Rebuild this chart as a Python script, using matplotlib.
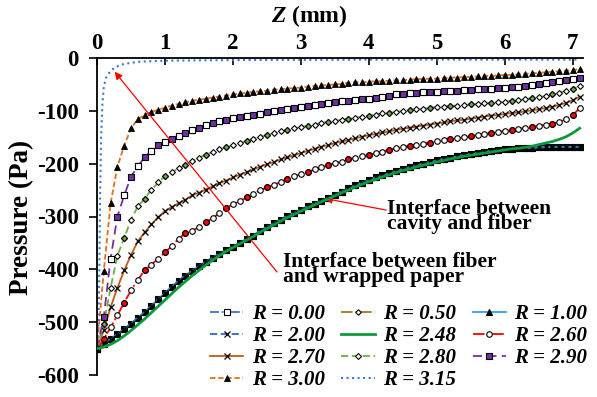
import matplotlib
matplotlib.use('Agg')
import matplotlib.pyplot as plt

plt.rcParams['font.family'] = ['Liberation Serif', 'DejaVu Serif']
plt.rcParams['font.weight'] = 'bold'
plt.rcParams['axes.unicode_minus'] = False
plt.rcParams['mathtext.fontset'] = 'custom'
plt.rcParams['mathtext.it'] = 'Liberation Serif:italic:bold'
plt.rcParams['mathtext.rm'] = 'Liberation Serif:bold'

# Z positions (mm) of the sampled points
z = [0.0, 0.1, 0.2, 0.3, 0.4, 0.5, 0.6, 0.7, 0.8, 0.9,
     1.0, 1.1, 1.2, 1.3, 1.4, 1.5, 1.6, 1.7, 1.8, 1.9,
     2.0, 2.1, 2.2, 2.3, 2.4, 2.5, 2.6, 2.7, 2.8, 2.9,
     3.0, 3.1, 3.2, 3.3, 3.4, 3.5, 3.6, 3.7, 3.8, 3.9,
     4.0, 4.1, 4.2, 4.3, 4.4, 4.5, 4.6, 4.7, 4.8, 4.9,
     5.0, 5.1, 5.2, 5.3, 5.4, 5.5, 5.6, 5.7, 5.8, 5.9,
     6.0, 6.1, 6.2, 6.3, 6.4, 6.5, 6.6, 6.7, 6.8, 6.9,
     7.0, 7.1]

# R = 0.00 ... 2.00 all fall on the same curve
p_core = [-550, -541, -532, -523, -513, -503, -492, -481, -469, -457,
          -445, -433, -422, -412, -403, -394, -386, -378, -371, -364,
          -357, -350, -343, -336, -327, -320, -313, -306, -299, -293,
          -287, -281, -276, -270, -265, -259, -253, -247, -241, -236,
          -231, -226, -222, -218, -214, -210, -207, -203, -200, -197,
          -194, -191, -189, -186, -184, -182, -180, -178, -176, -175,
          -173, -172, -171, -170, -170, -169, -169, -168, -168, -168,
          -168, -168]

p248 = [-550, -547, -542, -535, -526, -516, -505, -494, -482, -470,
        -458, -446, -434, -423, -412, -402, -392, -383, -374, -366,
        -359, -352, -345, -338, -330, -323, -316, -309, -302, -296,
        -290, -284, -278, -272, -267, -261, -255, -250, -244, -239,
        -234, -230, -225, -221, -217, -213, -210, -206, -203, -200,
        -197, -194, -191, -189, -186, -184, -182, -180, -178, -176,
        -174, -172, -171, -169, -167, -164, -161, -158, -154, -149,
        -142, -133]

p260 = [-550, -532, -510, -487, -463, -440, -420, -402, -391, -380,
        -368, -356, -342, -332, -327, -320, -311, -303, -294, -284,
        -277, -271, -264, -257, -250, -245, -240, -235, -229, -224,
        -220, -216, -211, -207, -203, -199, -196, -192, -189, -186,
        -183, -180, -177, -174, -171, -169, -166, -164, -162, -160,
        -158, -156, -154, -152, -150, -148, -146, -144, -142, -140,
        -138, -136, -134, -132, -130, -128, -126, -124, -121, -116,
        -108, -95]

p270 = [-550, -515, -472, -435, -402, -373, -347, -330, -315, -301,
        -290, -282, -275, -268, -260, -255, -249, -243, -237, -232,
        -226, -221, -216, -211, -206, -201, -197, -192, -188, -184,
        -180, -176, -172, -168, -165, -161, -158, -155, -152, -149,
        -146, -144, -141, -139, -136, -134, -132, -130, -128, -126,
        -124, -122, -120, -118, -117, -115, -113, -111, -109, -108,
        -106, -104, -103, -101, -99, -97, -95, -92, -89, -85,
        -80, -73]

p280 = [-550, -503, -435, -374, -341, -306, -281, -266, -250, -235,
        -224, -216, -209, -202, -195, -189, -183, -178, -173, -169,
        -165, -161, -157, -153, -149, -146, -142, -139, -136, -133,
        -131, -128, -126, -123, -121, -119, -117, -115, -113, -111,
        -109, -107, -105, -104, -102, -100, -99, -97, -96, -94,
        -93, -92, -91, -90, -89, -88, -87, -86, -85, -84,
        -83, -81, -80, -78, -76, -74, -72, -69, -66, -62,
        -58, -53]

p290 = [-550, -490, -380, -300, -260, -225, -205, -188, -176, -165,
        -159, -154, -148, -142, -137, -132, -127, -123, -120, -117,
        -114, -112, -110, -108, -106, -103, -101, -98, -96, -94,
        -92, -90, -89, -87, -86, -84, -82, -81, -79, -78,
        -77, -75, -73, -71, -69, -68, -67, -66, -65, -65,
        -64, -63, -62, -62, -61, -60, -59, -59, -58, -57,
        -56, -55, -54, -53, -51, -50, -48, -46, -44, -42,
        -40, -37]

p300 = [-550, -403, -275, -206, -166, -133, -116, -108, -102, -98,
        -94, -90, -87, -84, -81, -79, -77, -75, -73, -71,
        -69, -67, -66, -64, -63, -62, -60, -59, -58, -57,
        -56, -54, -53, -52, -51, -50, -49, -47, -46, -46,
        -45, -44, -44, -43, -42, -42, -41, -40, -40, -39,
        -39, -38, -37, -37, -36, -36, -35, -34, -34, -33,
        -32, -32, -31, -30, -29, -28, -27, -26, -25, -24,
        -23, -21]

# R = 3.15 rises almost vertically, sampled on its own grid
z315 = [0.0, 0.02, 0.035, 0.045, 0.06, 0.08, 0.1, 0.13, 0.19, 0.25,
        0.34, 0.5, 0.63, 1.0, 2.0, 3.0, 4.0, 5.0, 6.0, 7.1]
p315 = [-550, -510, -400, -270, -150, -85, -55, -38, -26, -19,
        -13, -9, -7, -5, -4, -3.5, -3, -3, -3, -3]

x_ticks = [0, 1, 2, 3, 4, 5, 6, 7]
y_ticks = [-600, -500, -400, -300, -200, -100, 0]

# order of the legend entries, filled column by column
legend_order = ['R = 0.00', 'R = 2.00', 'R = 2.70', 'R = 3.00',
                'R = 0.50', 'R = 2.48', 'R = 2.80', 'R = 3.15',
                'R = 1.00', 'R = 2.60', 'R = 2.90']

W, H = 597, 397


def fx(x):
    return x / W


def fy(y):
    return 1 - y / H


fig = plt.figure(figsize=(W / 100, H / 100), dpi=100)
ax = fig.add_axes([fx(97), fy(375), (583 - 97) / W, (375 - 58) / H])

ec = 'black'
ms = 4.0

# core bundle
ax.plot(z, p_core, color='#4472C4', ls=(0, (5, 1.5, 1, 1.5, 1, 1.5)), lw=1.3,
        marker='s', ms=ms, mfc='white', mec=ec, mew=0.8, label='R = 0.00')
ax.plot(z, p_core, color='#A07A26', ls='-.', lw=1.3,
        marker='D', ms=2.8, mfc='white', mec=ec, mew=0.8, label='R = 0.50')
ax.plot(z, p_core, color='#33A1E8', ls='-', lw=1.3,
        marker='^', ms=ms, mfc='black', mec=ec, mew=0.8, label='R = 1.00')
ax.plot(z, p_core, color='#2E6DB4', ls=(0, (4, 2)), lw=1.3,
        marker='x', ms=ms, mec=ec, mew=0.9, label='R = 2.00')
ax.plot(z, p248, color='#0A9A3C', ls='-', lw=2.0, label='R = 2.48', zorder=4)

ax.plot(z, p260, color='#FF0000', ls='-.', lw=1.3,
        marker='o', ms=ms, mfc='white', mec=ec, mew=0.8, label='R = 2.60')
ax.plot(z[1::3], p260[1::3], ls='none', marker='o', ms=ms, mfc='#FF0000', mec=ec, mew=0.8)

ax.plot(z, p270, color='#C55A11', ls='-', lw=1.3,
        marker='x', ms=ms, mec=ec, mew=0.9, label='R = 2.70')

ax.plot(z, p280, color='#70AD47', ls=(0, (4, 2)), lw=1.3,
        marker='D', ms=3.0, mfc='white', mec=ec, mew=0.8, label='R = 2.80')
ax.plot(z[1::3], p280[1::3], ls='none', marker='D', ms=3.0, mfc='#70AD47', mec=ec, mew=0.8)

ax.plot(z, p290, color='#7030A0', ls=(0, (5, 3)), lw=1.3,
        marker='s', ms=ms, mfc='#7030A0', mec=ec, mew=0.8, label='R = 2.90')
ax.plot(z[::2], p290[::2], ls='none', marker='s', ms=ms, mfc='white', mec=ec, mew=0.8)

ax.plot(z, p300, color='#E07020', ls=(0, (3, 1.5)), lw=1.3,
        marker='^', ms=ms, mfc='black', mec=ec, mew=0.6, label='R = 3.00')

ax.plot(z315, p315, color='#3A78D8', ls=':', lw=1.5, label='R = 3.15')

ax.set_xlim(0, 7.15)
ax.set_ylim(-600, 0)
ax.set_xticks(x_ticks)
ax.set_yticks(y_ticks)
ax.xaxis.tick_top()
ax.tick_params(axis='x', direction='in', length=5, width=1.2, labelsize=16.5, pad=3)
ax.tick_params(axis='y', direction='out', length=6, width=1.2, labelsize=16.5, pad=7)
for lab in ax.get_xticklabels() + ax.get_yticklabels():
    lab.set_fontweight('bold')
ax.spines['right'].set_visible(False)
ax.spines['bottom'].set_visible(False)
ax.spines['left'].set_linewidth(1.3)
ax.spines['top'].set_linewidth(1.3)

fig.text(fx(309), fy(16), '$Z$ (mm)', ha='center', va='center', fontsize=17, fontweight='bold')
fig.text(fx(22), fy(217), 'Pressure (Pa)', ha='center', va='center', rotation=90,
         fontsize=19.5, fontweight='bold')

# annotations
arrow = dict(arrowstyle='-|>', color='red', lw=0.9, mutation_scale=11, shrinkA=0, shrinkB=0)
ax.annotate('', xy=(3.35, -266), xycoords='data',
            xytext=(fx(386), fy(210)), textcoords='figure fraction', arrowprops=arrow)
fig.text(fx(387), fy(199), 'Interface between\ncavity and fiber', fontsize=15.5,
         fontweight='bold', va='top', ha='left', linespacing=0.68)

ax.annotate('', xy=(0.26, -26), xycoords='data',
            xytext=(fx(277), fy(272)), textcoords='figure fraction', arrowprops=arrow)
fig.text(fx(283), fy(252), 'Interface between fiber\nand wrapped paper', fontsize=15.5,
         fontweight='bold', va='top', ha='left', linespacing=0.68)

handles, labels = ax.get_legend_handles_labels()
lookup = dict(zip(labels, handles))
leg = ax.legend([lookup[k] for k in legend_order], legend_order,
                loc='upper left', bbox_to_anchor=(fx(210), fy(304)), bbox_transform=fig.transFigure,
                ncol=3, frameon=False, numpoints=1, handlelength=1.6, handletextpad=0.4,
                columnspacing=0.8, labelspacing=0.1, borderpad=0, borderaxespad=0,
                prop={'family': 'Liberation Serif', 'weight': 'bold', 'style': 'italic', 'size': 15})

fig.savefig('out.png', dpi=100)
